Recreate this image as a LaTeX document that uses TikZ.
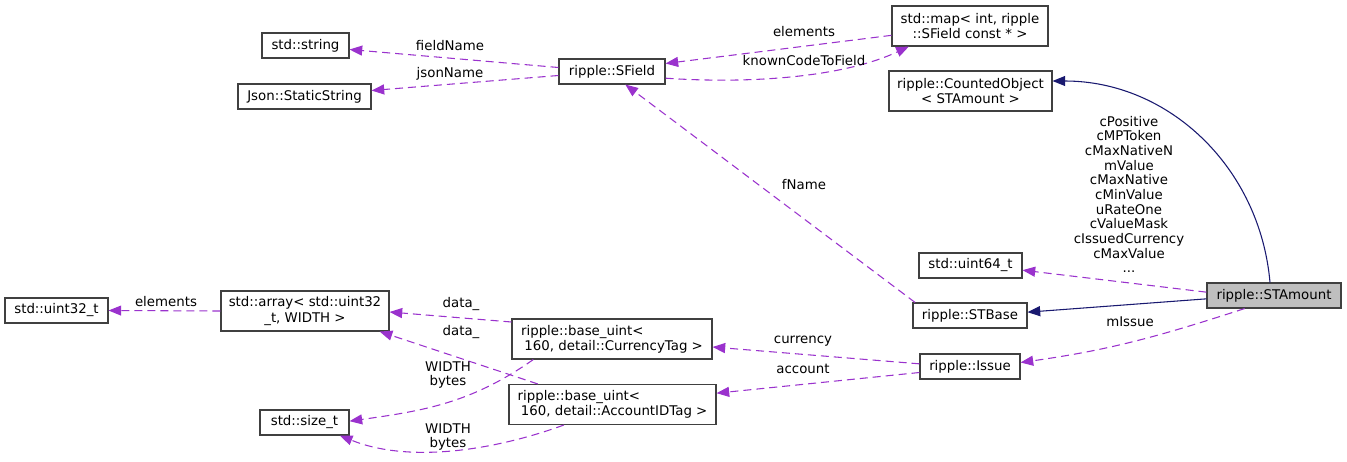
\documentclass[tikz,border=0pt]{standalone}
\usepackage{fontspec}
\setmainfont{DejaVu Sans}
\usetikzlibrary{arrows.meta}
\definecolor{edgepurple}{HTML}{9A32CD}
\definecolor{edgenavy}{HTML}{191970}
\definecolor{boxgray}{HTML}{404040}
\definecolor{focusfill}{HTML}{BFBFBF}
\tikzset{
    classbox/.style={rectangle, draw=boxgray, line width=0.8pt, fill=white, inner sep=1pt, minimum height=18.75pt, align=center, font=\fontsize{10}{11.5}\selectfont},
    focusbox/.style={classbox, fill=focusfill},
    useedge/.style={draw=edgepurple, line width=0.8pt, dash pattern=on 6pt off 3.75pt, -{Triangle[length=9.5pt, width=7.5pt]}},
    inhedge/.style={draw=edgenavy, line width=0.8pt, -{Triangle[length=9.5pt, width=7.5pt]}},
    lbl/.style={inner sep=0pt, align=center, font=\fontsize{10}{11}\selectfont},
}

\begin{document}
\begin{tikzpicture}[x=0.75pt, y=-0.75pt]
    \useasboundingbox (0,0) rectangle (1347,461);
    % classes
    \node[classbox, minimum width=65.25pt] (string) at (305.5,45.5) {std::string};
    \node[classbox, minimum width=99.75pt] (jsonstr) at (304.5,96.5) {Json::StaticString};
    \node[classbox, minimum width=79.5pt] (sfield) at (612,71.5) {ripple::SField};
    \node[classbox, minimum width=117pt, minimum height=30pt] (fieldmap) at (970,26) {std::map< int, ripple\\::SField const * >};
    \node[classbox, minimum width=122.25pt, minimum height=30pt] (counted) at (970.5,91) {ripple::CountedObject\\< STAmount >};
    \node[classbox, minimum width=77.25pt] (uint64) at (970.5,265.5) {std::uint64\_t};
    \node[focusbox, minimum width=100.5pt] (stamount) at (1274,295.5) {ripple::STAmount};
    \node[classbox, minimum width=85.5pt] (stbase) at (970,315.5) {ripple::STBase};
    \node[classbox, minimum width=75pt] (issue) at (970,366.5) {ripple::Issue};
    \node[classbox, minimum width=77.25pt] (uint32) at (56.5,310.5) {std::uint32\_t};
    \node[classbox, minimum width=126pt, minimum height=30pt] (stdarray) at (305,311) {std::array< std::uint32\\\_t, WIDTH >};
    \node[classbox, minimum width=150pt, minimum height=30pt, align=left] (currtag) at (612,339) {ripple::base\_uint<\\\hspace*{2.5pt}160, detail::CurrencyTag >};
    \node[classbox, minimum width=155.25pt, minimum height=30pt, align=left] (accttag) at (612.5,404.5) {ripple::base\_uint<\\\hspace*{2.5pt}160, detail::AccountIDTag >};
    \node[classbox, minimum width=66.75pt] (sizet) at (304.5,422.5) {std::size\_t};
    % members
    \draw[useedge] ([yshift=3pt]sfield.west) -- ([yshift=-3pt]string.east);
    \draw[useedge] ([yshift=-3pt]sfield.west) -- ([yshift=4.5pt]jsonstr.east);
    \draw[useedge] ([yshift=-7pt]fieldmap.west) -- ([yshift=6pt]sfield.east);
    \draw[useedge] ([yshift=-5pt]sfield.east) to[out=-4, in=205, looseness=0.8] ([xshift=13pt]fieldmap.south west);
    \draw[useedge] ([xshift=2pt]stbase.north west) -- ([xshift=10pt]sfield.south);
    \draw[useedge] ([yshift=2.5pt]stamount.west) -- ([yshift=-3.5pt]uint64.east);
    \draw[useedge] ([xshift=-22pt]stamount.south) to[out=198, in=8] ([yshift=3pt]issue.east);
    \draw[useedge] ([yshift=2pt]issue.west) -- ([yshift=-6pt]currtag.east);
    \draw[useedge] ([yshift=-4.5pt]issue.west) -- ([yshift=8.5pt]accttag.east);
    \draw[useedge] ([yshift=12.75pt]currtag.west) -- ([yshift=-0.75pt]stdarray.east);
    \draw[useedge] ([xshift=-56pt]accttag.north) -- ([xshift=56pt]stdarray.south);
    \draw[useedge] ([xshift=-59pt]currtag.south) to[out=215, in=8] ([yshift=1pt]sizet.east);
    \draw[useedge] ([xshift=-36.5pt]accttag.south) to[out=200, in=-22, looseness=0.85] ([xshift=26.5pt]sizet.south);
    \draw[useedge] (stdarray.west) -- (uint32.east);
    % bases
    \draw[inhedge] ([xshift=-3pt]stamount.north) to[out=95, in=0] ([yshift=7.5pt]counted.east);
    \draw[inhedge] ([yshift=-2.5pt]stamount.west) -- ([yshift=2.5pt]stbase.east);
    % edge labels
    \node[lbl] (l-fieldname) at (450,46) {fieldName};
    \node[lbl] (l-jsonname) at (450,74) {jsonName};
    \node[lbl] (l-mapelems) at (804,32) {elements};
    \node[lbl] (l-codetofield) at (804,61) {knownCodeToField};
    \node[lbl] (l-fname) at (804,185) {fName};
    \node[lbl] (l-consts) at (1129,194.5) {cPositive\\cMPToken\\cMaxNativeN\\mValue\\cMaxNative\\cMinValue\\uRateOne\\cValueMask\\cIssuedCurrency\\cMaxValue\\...};
    \node[lbl] (l-missue) at (1130,322) {mIssue};
    \node[lbl] (l-currency) at (803,341) {currency};
    \node[lbl] (l-account) at (803,369) {account};
    \node[lbl] (l-data1) at (461,304) {data\_};
    \node[lbl] (l-data2) at (461,332) {data\_};
    \node[lbl] (l-width1) at (448,375) {WIDTH\\bytes};
    \node[lbl] (l-width2) at (448,437) {WIDTH\\bytes};
    \node[lbl] (l-arrelems) at (166,302) {elements};
\end{tikzpicture}
\end{document}
